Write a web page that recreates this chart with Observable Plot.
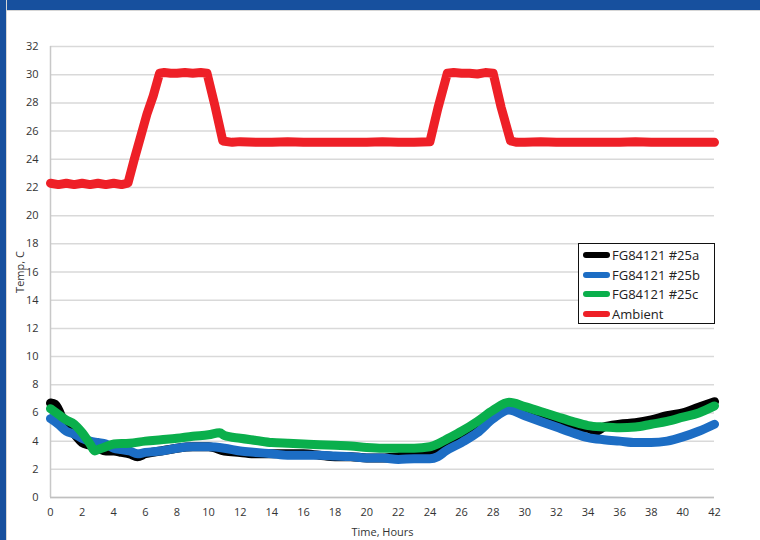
<!DOCTYPE html>
<html>
<head>
<meta charset="utf-8">
<script src="https://cdn.jsdelivr.net/npm/d3@7"></script>
<script src="https://cdn.jsdelivr.net/npm/@observablehq/plot@0.6"></script>
<style>
  html, body { margin: 0; padding: 0; background: #fff; }
  #page { position: relative; width: 760px; height: 540px; overflow: hidden; background: #fff; }
  #topband { position: absolute; left: 0; top: 0; width: 760px; height: 10px; background: #17509e; border-bottom: 1px solid #d6d6d6; }
  #leftband { position: absolute; left: 0; top: 0; width: 6px; height: 540px; background: #17509e; border-right: 1px solid #d6d6d6; }
  #chart { position: absolute; left: 6px; top: 10px; }
  #legend { position: absolute; left: 578px; top: 243px; width: 135px; height: 79px; border: 1.5px solid #111; background: #fff; font-family: "Open Sans", sans-serif; font-size: 13px; color: #222; }
  .row { position: absolute; left: 4px; height: 20px; display: flex; align-items: center; }
  .sw { width: 27px; height: 6px; border-radius: 3px; margin-right: 2px; }
</style>
</head>
<body>
<div id="page">
  <div id="chart"></div>
  <div id="topband"></div>
  <div id="leftband"></div>
  <div id="legend"></div>
</div>
<script>
// ---- data ----
const seriesNames = ["FG84121 #25a", "FG84121 #25b", "FG84121 #25c", "Ambient"];
const seriesColors = ["#000000", "#1c6dc4", "#0aaf4c", "#ee2027"];

const timeA = [0,0.3,1,1.5,2,2.5,3,3.5,4,4.5,5,5.5,6,7,8,9,10,11,12,13,14,15,16,17,18,19,20,21,22,23,24,24.5,25,26,27,28,29,30,31,32,33,34,34.5,35,36,37,38,39,40,41,42];
const tempA = [6.7,6.6,5.0,4.5,3.9,3.7,3.5,3.3,3.3,3.2,3.1,2.9,3.1,3.3,3.5,3.6,3.6,3.3,3.2,3.1,3.1,3.1,3.1,3.0,2.9,2.9,2.8,2.8,2.9,3.0,3.0,3.2,3.6,4.2,5.0,5.9,6.4,6.0,5.6,5.3,5.0,4.9,4.7,5.0,5.2,5.3,5.5,5.8,6.0,6.4,6.8];

const timeB = [0,0.5,1,1.5,2,2.5,3,3.5,4,4.5,5,5.5,6,7,8,9,10,11,12,13,14,15,16,17,18,19,20,21,22,23,24,24.5,25,26,27,28,29,30,31,32,33,34,35,36,37,38,39,40,41,42];
const tempB = [5.6,5.2,4.7,4.5,4.2,4.0,3.9,3.8,3.5,3.4,3.3,3.1,3.2,3.3,3.5,3.6,3.6,3.5,3.3,3.2,3.1,3.0,3.0,3.0,2.95,2.9,2.8,2.8,2.7,2.75,2.75,2.9,3.3,3.9,4.6,5.6,6.2,5.8,5.4,5.0,4.6,4.25,4.1,4.0,3.9,3.9,4.0,4.3,4.7,5.2];

const timeC = [0,0.5,1,1.5,2,2.5,2.8,3,3.5,4,5,6,7,8,9,10,10.7,11,12,13,14,15,16,17,18,19,20,21,22,23,24,24.5,25,26,27,28,29,30,31,32,33,34,35,36,37,38,39,40,41,42];
const tempC = [6.3,5.9,5.5,5.2,4.6,3.8,3.3,3.4,3.6,3.8,3.85,4.0,4.1,4.2,4.35,4.45,4.6,4.4,4.2,4.05,3.9,3.85,3.8,3.75,3.7,3.65,3.55,3.5,3.5,3.5,3.6,3.8,4.1,4.7,5.4,6.2,6.75,6.45,6.1,5.75,5.4,5.1,5.0,4.95,5.0,5.2,5.4,5.7,6.0,6.5];

const timeAmb = [0,0.5,1,1.5,2,2.5,3,3.5,4,4.5,4.9,5.3,5.7,6.1,6.5,6.9,7.2,7.6,8,8.5,9,9.5,9.9,10.4,10.9,11.5,12,13,14,15,16,17,18,19,20,21,22,23,24,24.5,25.1,25.5,26,26.5,27,27.5,28,28.5,29.1,29.5,30,31,32,33,34,35,36,37,38,39,40,41,42];
const tempAmb = [22.3,22.2,22.3,22.2,22.3,22.2,22.3,22.2,22.3,22.2,22.3,24.0,25.6,27.2,28.5,30.1,30.15,30.1,30.1,30.15,30.1,30.15,30.1,27.8,25.3,25.2,25.25,25.2,25.2,25.25,25.2,25.2,25.2,25.2,25.2,25.25,25.2,25.2,25.25,27.6,30.1,30.15,30.1,30.1,30.05,30.15,30.1,27.7,25.3,25.2,25.2,25.25,25.2,25.2,25.2,25.2,25.2,25.25,25.2,25.2,25.2,25.2,25.2];

const xTicks = d3.range(0, 43, 2);
const yTicks = d3.range(0, 33, 2);

// ---- build rows ----
const toRows = (ts, vs, name) => ts.map((t, i) => ({time: t, temp: vs[i], series: name}));
const rowsA = toRows(timeA, tempA, seriesNames[0]);
const rowsB = toRows(timeB, tempB, seriesNames[1]);
const rowsC = toRows(timeC, tempC, seriesNames[2]);
const rowsAmb = toRows(timeAmb, tempAmb, seriesNames[3]);

const lineOpts = (color, curve) => ({x: "time", y: "temp", stroke: color, strokeWidth: 9, strokeLinecap: "round", strokeLinejoin: "round", curve});

const chart = Plot.plot({
  width: 754,
  height: 530,
  marginLeft: 44,
  marginRight: 46,
  marginTop: 36,
  marginBottom: 43,
  style: {fontFamily: "'Open Sans', sans-serif", fontSize: "11px", color: "#333", background: "transparent"},
  x: {domain: [0, 42], ticks: xTicks, tickSize: 0, tickPadding: 11, label: "Time, Hours", labelAnchor: "center", labelOffset: 38, labelArrow: "none"},
  y: {domain: [0, 32], ticks: yTicks, tickSize: 0, tickPadding: 12, label: "Temp, C", labelAnchor: "center", labelOffset: 34, labelArrow: "none"},
  marks: [
    Plot.gridY(yTicks, {stroke: "#d9d9d9", strokeOpacity: 1, strokeWidth: 1.5}),
    Plot.ruleX([0], {stroke: "#c8c8c8", strokeWidth: 1.5}),
    Plot.ruleY([0], {stroke: "#c0c0c0", strokeWidth: 1.5}),
    Plot.line(rowsA, lineOpts(seriesColors[0], "monotone-x")),
    Plot.line(rowsB, lineOpts(seriesColors[1], "monotone-x")),
    Plot.line(rowsC, lineOpts(seriesColors[2], "monotone-x")),
    Plot.line(rowsAmb, lineOpts(seriesColors[3], "linear"))
  ]
});
document.getElementById("chart").appendChild(chart);

// ---- legend ----
const legend = document.getElementById("legend");
seriesNames.forEach((name, i) => {
  const row = document.createElement("div");
  row.className = "row";
  row.style.top = (1 + i * 19.5) + "px";
  const sw = document.createElement("div");
  sw.className = "sw";
  sw.style.background = seriesColors[i];
  const lab = document.createElement("span");
  lab.textContent = name;
  row.appendChild(sw);
  row.appendChild(lab);
  legend.appendChild(row);
});
</script>
</body>
</html>
